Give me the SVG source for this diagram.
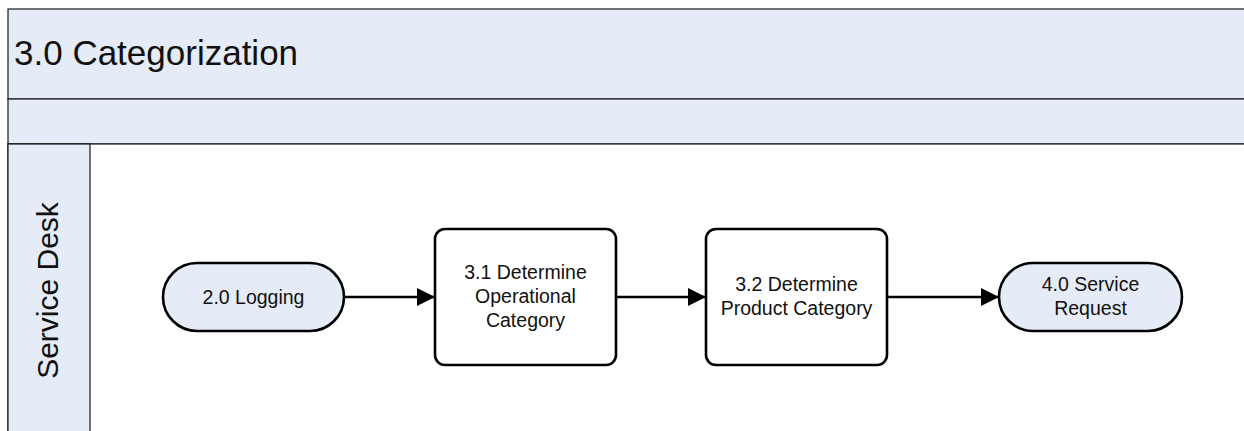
<svg xmlns="http://www.w3.org/2000/svg" width="1244" height="431" viewBox="0 0 1244 431">
<style>
.band{fill:#E5ECF7;stroke:#1a1a1a;stroke-width:1.2}
.term{fill:#E5ECF7;stroke:#000;stroke-width:2.6}
.proc{fill:#FFFFFF;stroke:#000;stroke-width:2.6}
.lbl{font-family:"Liberation Sans",Arial,sans-serif;font-size:19.5px;fill:#111;text-anchor:middle}
.conn{stroke:#000;stroke-width:2.6;fill:none}
</style>
<defs>
<marker id="ah" markerUnits="userSpaceOnUse" markerWidth="19" markerHeight="18" refX="18" refY="9" orient="auto">
<path d="M0,0 L18,9 L0,18 Z" fill="#000"/>
</marker>
</defs>
<rect width="1244" height="431" fill="#FFFFFF"/>
<g id="pool">
<rect class="band" x="8" y="9" width="1250" height="90"/>
<rect class="band" x="8" y="99" width="1250" height="45"/>
<rect x="8" y="144" width="1250" height="300" fill="#FFFFFF" stroke="#1a1a1a" stroke-width="1.2"/>
<rect class="band" x="8" y="144" width="82" height="300"/>
<text x="14" y="65" font-family="Liberation Sans, Arial, sans-serif" font-size="35" fill="#111">3.0 Categorization</text>
<text transform="translate(58,290.5) rotate(-90)" text-anchor="middle" font-family="Liberation Sans, Arial, sans-serif" font-size="30" fill="#111">Service Desk</text>
</g>
<g id="connectors">
<line class="conn" x1="344" y1="297" x2="435" y2="297" marker-end="url(#ah)"/>
<line class="conn" x1="616" y1="297" x2="706" y2="297" marker-end="url(#ah)"/>
<line class="conn" x1="887" y1="297" x2="999" y2="297" marker-end="url(#ah)"/>
</g>
<g id="n20">
<rect class="term" x="163" y="263" width="181" height="68" rx="34" ry="34"/>
<text class="lbl" x="253.5" y="304">2.0 Logging</text>
</g>
<g id="n31">
<rect class="proc" x="435" y="229" width="181" height="136" rx="10" ry="10"/>
<text class="lbl" x="525.5" y="279">3.1 Determine</text>
<text class="lbl" x="525.5" y="303">Operational</text>
<text class="lbl" x="525.5" y="327">Category</text>
</g>
<g id="n32">
<rect class="proc" x="706" y="229" width="181" height="136" rx="10" ry="10"/>
<text class="lbl" x="796.5" y="291">3.2 Determine</text>
<text class="lbl" x="796.5" y="315">Product Category</text>
</g>
<g id="n40">
<rect class="term" x="999" y="263" width="183" height="68" rx="34" ry="34"/>
<text class="lbl" x="1090.5" y="291">4.0 Service</text>
<text class="lbl" x="1090.5" y="315">Request</text>
</g>
</svg>
